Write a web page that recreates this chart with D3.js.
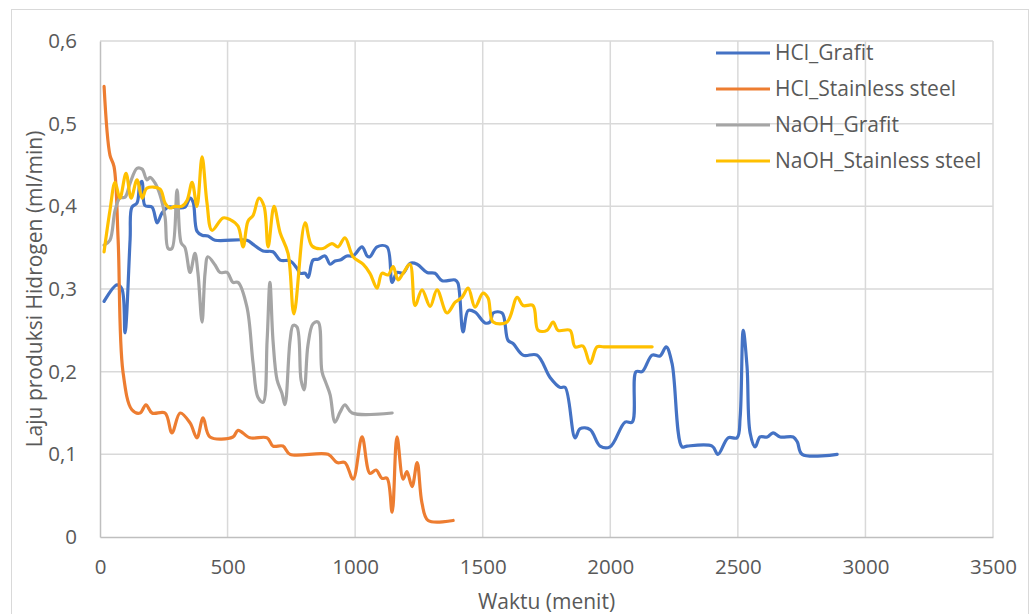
<!DOCTYPE html>
<html>
<head>
<meta charset="utf-8">
<script src="https://cdn.jsdelivr.net/npm/d3@7"></script>
<style>
  body { margin: 0; background: #fff; }
  text { font-family: "Open Sans", "Liberation Sans", sans-serif; fill: #595959; }
</style>
</head>
<body>
<div id="chart"></div>
<script>
// Waktu (menit) and Laju produksi Hidrogen (ml/min)
const hclGrafitT = [16, 67, 86, 98, 118, 125, 145, 157, 165, 176, 204, 224, 243, 267, 306, 333, 353, 365, 380, 400, 423, 451, 576, 600, 639, 678, 706, 745, 772, 784, 804, 816, 835, 855, 882, 902, 921, 941, 968, 992, 1027, 1047, 1058, 1086, 1125, 1145, 1164, 1188, 1215, 1243, 1282, 1313, 1341, 1392, 1403, 1423, 1443, 1470, 1509, 1529, 1541, 1576, 1599, 1619, 1658, 1713, 1764, 1803, 1823, 1862, 1882, 1921, 1960, 1999, 2058, 2086, 2101, 2125, 2164, 2195, 2219, 2242, 2281, 2301, 2399, 2422, 2462, 2497, 2509, 2521, 2536, 2548, 2568, 2587, 2615, 2638, 2666, 2717, 2733, 2752, 2889];
const hclGrafitV = [0.285, 0.305, 0.300, 0.247, 0.36, 0.399, 0.404, 0.428, 0.43, 0.401, 0.399, 0.38, 0.392, 0.399, 0.398, 0.399, 0.41, 0.405, 0.37, 0.365, 0.364, 0.359, 0.359, 0.354, 0.346, 0.345, 0.335, 0.334, 0.325, 0.319, 0.319, 0.314, 0.335, 0.336, 0.34, 0.33, 0.334, 0.335, 0.34, 0.34, 0.351, 0.34, 0.339, 0.351, 0.351, 0.308, 0.32, 0.319, 0.331, 0.33, 0.32, 0.319, 0.31, 0.311, 0.307, 0.248, 0.274, 0.272, 0.259, 0.26, 0.271, 0.271, 0.238, 0.234, 0.22, 0.22, 0.193, 0.181, 0.181, 0.12, 0.131, 0.13, 0.11, 0.109, 0.139, 0.139, 0.2, 0.2, 0.22, 0.219, 0.23, 0.21, 0.109, 0.11, 0.11, 0.1, 0.12, 0.12, 0.145, 0.25, 0.206, 0.126, 0.109, 0.121, 0.121, 0.126, 0.121, 0.121, 0.115, 0.1, 0.1];

const hclSteelT = [16, 39, 55, 71, 90, 125, 157, 180, 204, 255, 282, 314, 353, 380, 404, 431, 521, 541, 588, 655, 678, 717, 745, 894, 929, 960, 992, 1027, 1058, 1082, 1105, 1125, 1145, 1164, 1188, 1203, 1223, 1243, 1262, 1286, 1384];
const hclSteelV = [0.545, 0.462, 0.448, 0.36, 0.2, 0.154, 0.15, 0.16, 0.15, 0.15, 0.126, 0.15, 0.138, 0.12, 0.144, 0.121, 0.121, 0.129, 0.12, 0.12, 0.11, 0.11, 0.1, 0.1, 0.09, 0.09, 0.07, 0.121, 0.077, 0.081, 0.071, 0.071, 0.03, 0.121, 0.07, 0.079, 0.061, 0.09, 0.041, 0.02, 0.02];

const naohGrafitT = [16, 39, 59, 78, 98, 118, 145, 165, 184, 196, 216, 235, 255, 267, 282, 302, 318, 333, 353, 372, 384, 400, 412, 423, 451, 470, 498, 521, 541, 576, 600, 619, 639, 655, 666, 678, 694, 713, 725, 745, 757, 772, 788, 800, 815, 835, 855, 870, 886, 902, 921, 941, 960, 988, 1145];
const naohGrafitV = [0.353, 0.359, 0.395, 0.41, 0.411, 0.428, 0.446, 0.445, 0.432, 0.435, 0.428, 0.414, 0.387, 0.349, 0.349, 0.42, 0.356, 0.35, 0.32, 0.343, 0.319, 0.26, 0.32, 0.339, 0.329, 0.32, 0.32, 0.308, 0.308, 0.278, 0.21, 0.169, 0.163, 0.238, 0.308, 0.238, 0.19, 0.174, 0.16, 0.238, 0.256, 0.254, 0.19, 0.178, 0.232, 0.258, 0.26, 0.2, 0.186, 0.172, 0.139, 0.151, 0.16, 0.15, 0.15];

const naohSteelT = [16, 39, 59, 78, 102, 122, 145, 165, 184, 235, 255, 274, 294, 321, 341, 361, 380, 400, 419, 439, 482, 510, 541, 561, 580, 600, 623, 643, 659, 682, 706, 737, 760, 804, 831, 874, 909, 933, 960, 992, 1031, 1058, 1086, 1105, 1129, 1149, 1168, 1188, 1215, 1235, 1262, 1294, 1321, 1360, 1392, 1419, 1443, 1470, 1501, 1521, 1541, 1595, 1635, 1658, 1697, 1717, 1752, 1776, 1795, 1842, 1862, 1893, 1921, 1948, 1975, 2164];
const naohSteelV = [0.345, 0.395, 0.429, 0.41, 0.44, 0.41, 0.432, 0.41, 0.422, 0.421, 0.404, 0.398, 0.4, 0.4, 0.407, 0.429, 0.4, 0.46, 0.405, 0.371, 0.386, 0.384, 0.376, 0.351, 0.382, 0.389, 0.41, 0.4, 0.351, 0.4, 0.368, 0.343, 0.27, 0.38, 0.352, 0.349, 0.355, 0.351, 0.362, 0.339, 0.33, 0.319, 0.301, 0.319, 0.317, 0.327, 0.311, 0.319, 0.33, 0.28, 0.299, 0.279, 0.299, 0.271, 0.284, 0.29, 0.301, 0.278, 0.295, 0.289, 0.26, 0.26, 0.29, 0.28, 0.28, 0.25, 0.25, 0.26, 0.25, 0.25, 0.23, 0.231, 0.21, 0.23, 0.23, 0.23];

const seriesNames = ["HCl_Grafit", "HCl_Stainless steel", "NaOH_Grafit", "NaOH_Stainless steel"];
const seriesColors = ["#4472C4", "#ED7D31", "#A5A5A5", "#FFC000"];
const xTicks = [0, 500, 1000, 1500, 2000, 2500, 3000, 3500];
const yTicks = [0, 0.1, 0.2, 0.3, 0.4, 0.5, 0.6];

const W = 1030, H = 614;
const margin = { top: 41, right: 37, bottom: 77, left: 100 };
const width = W - margin.left - margin.right;
const height = H - margin.top - margin.bottom;

const zip = (t, v) => t.map((d, i) => ({ t: d, v: v[i] }));
const series = [
    zip(hclGrafitT, hclGrafitV),
    zip(hclSteelT, hclSteelV),
    zip(naohGrafitT, naohGrafitV),
    zip(naohSteelT, naohSteelV)
];

const svgRoot = d3.select("#chart")
    .append("svg")
    .attr("width", W)
    .attr("height", H);

// chart frame
svgRoot.append("rect")
    .attr("x", 11.5).attr("y", 9.5)
    .attr("width", 1017).attr("height", 640)
    .attr("fill", "none")
    .attr("stroke", "#d9d9d9");

const svg = svgRoot.append("g")
    .attr("transform", `translate(${margin.left},${margin.top})`);

const x = d3.scaleLinear().domain([0, 3500]).range([0, width]);
const y = d3.scaleLinear().domain([0, 0.6]).range([height, 0]);

// Gridlines
svg.append("g")
    .selectAll("line")
    .data(xTicks.slice(1))
    .enter().append("line")
    .attr("x1", d => x(d)).attr("x2", d => x(d))
    .attr("y1", 0).attr("y2", height)
    .attr("stroke", "#d9d9d9").attr("stroke-width", 1.5);

svg.append("g")
    .selectAll("line")
    .data(yTicks.slice(1))
    .enter().append("line")
    .attr("x1", 0).attr("x2", width)
    .attr("y1", d => y(d)).attr("y2", d => y(d))
    .attr("stroke", "#d9d9d9").attr("stroke-width", 1.5);

// X Axis
const xAxis = svg.append("g")
    .attr("transform", `translate(0,${height})`)
    .call(d3.axisBottom(x).tickValues(xTicks).tickSize(0).tickPadding(22).tickFormat(d3.format("d")));
xAxis.select(".domain").attr("stroke", "#bfbfbf").attr("stroke-width", 1.5);

// Y Axis
const fmtY = d => d === 0 ? "0" : d3.format(".1f")(d).replace(".", ",");
const yAxis = svg.append("g")
    .call(d3.axisLeft(y).tickValues(yTicks).tickSize(0).tickPadding(23).tickFormat(fmtY));
yAxis.select(".domain").attr("stroke", "#bfbfbf").attr("stroke-width", 1.5);

svg.selectAll(".tick text")
    .style("font-family", "'Open Sans', 'Liberation Sans', sans-serif")
    .style("font-size", "20.5px")
    .attr("fill", "#595959");

// Lines
const line = d3.line()
    .x(d => x(d.t))
    .y(d => y(d.v))
    .curve(d3.curveCatmullRom);

svg.selectAll(".series")
    .data(series)
    .enter()
    .append("path")
    .attr("fill", "none")
    .attr("stroke", (d, i) => seriesColors[i])
    .attr("stroke-width", 3.2)
    .attr("stroke-linejoin", "round")
    .attr("stroke-linecap", "round")
    .attr("d", line);

// Axis titles
svgRoot.append("text")
    .attr("x", margin.left + width / 2)
    .attr("y", 609)
    .attr("text-anchor", "middle")
    .style("font-size", "21px")
    .text("Waktu (menit)");

svgRoot.append("text")
    .attr("transform", `translate(42,${margin.top + height / 2}) rotate(-90)`)
    .attr("text-anchor", "middle")
    .style("font-size", "21px")
    .text("Laju produksi Hidrogen (ml/min)");

// Legend
const legend = svgRoot.append("g");
seriesNames.forEach((name, i) => {
    const ly = 53 + i * 36;
    legend.append("line")
        .attr("x1", 716).attr("x2", 770)
        .attr("y1", ly).attr("y2", ly)
        .attr("stroke", seriesColors[i])
        .attr("stroke-width", 3.2);
    legend.append("text")
        .attr("x", 775)
        .attr("y", ly)
        .attr("dy", "0.35em")
        .style("font-size", "21px")
        .text(name);
});
</script>
</body>
</html>
